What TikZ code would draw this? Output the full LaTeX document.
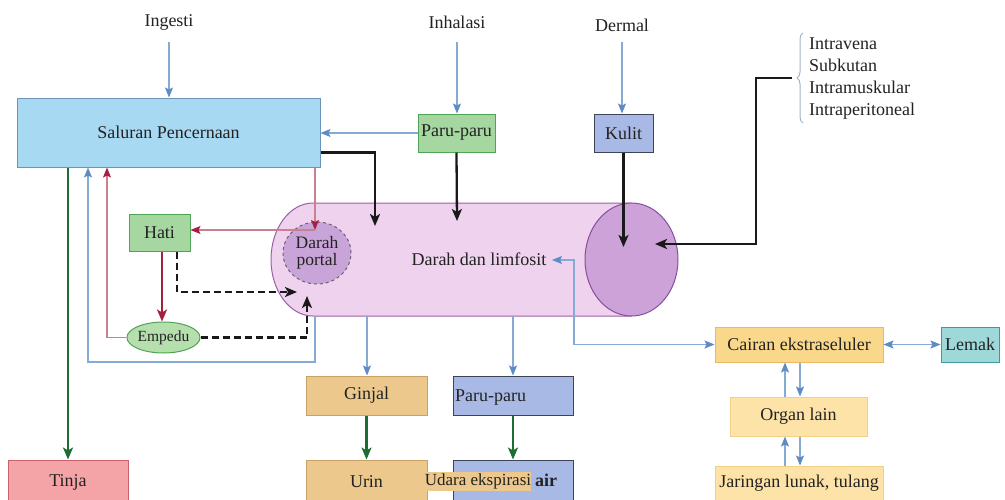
\documentclass[tikz,border=0pt]{standalone}
\usepackage{fontspec}
\setmainfont{Liberation Serif}
\usetikzlibrary{arrows.meta,shapes.geometric,calc,decorations.pathreplacing}

\definecolor{txt}{HTML}{222222}
\definecolor{salfill}{HTML}{A8D9F3}
\definecolor{salln}{HTML}{6A94B8}
\definecolor{grfill}{HTML}{A7D7A0}
\definecolor{grln}{HTML}{4FA456}
\definecolor{empfill}{HTML}{B6DFAE}
\definecolor{pbfill}{HTML}{A9B9E6}
\definecolor{pbln}{HTML}{3D4455}
\definecolor{tubefill}{HTML}{EFD2EE}
\definecolor{tubeln}{HTML}{9B5EA8}
\definecolor{capfill}{HTML}{CDA2D9}
\definecolor{capln}{HTML}{874E9B}
\definecolor{portfill}{HTML}{C9A4D9}
\definecolor{portln}{HTML}{6E5D73}
\definecolor{tinfill}{HTML}{F4A3A6}
\definecolor{tinln}{HTML}{C8636E}
\definecolor{tanfill}{HTML}{ECC88C}
\definecolor{tanln}{HTML}{C9A068}
\definecolor{cairfill}{HTML}{FAD88B}
\definecolor{cairln}{HTML}{EAB867}
\definecolor{orgfill}{HTML}{FDE3A8}
\definecolor{orgln}{HTML}{F2D088}
\definecolor{lemfill}{HTML}{9FD8D8}
\definecolor{lemln}{HTML}{3C9C9C}
\definecolor{blueln}{HTML}{85ABD4}
\definecolor{bluetip}{HTML}{5E8BC4}
\definecolor{redln}{HTML}{C98090}
\definecolor{redtip}{HTML}{A52040}
\definecolor{redthick}{HTML}{A3203F}
\definecolor{greenln}{HTML}{1E6B34}
\definecolor{bracec}{HTML}{A3B2C6}

\tikzset{
  box/.style={draw, rectangle, inner sep=0pt, line width=1pt, text=txt},
  lbl/.style={inner sep=0pt, text=txt},
  bl/.style={draw=blueln, line width=1.1pt,
    -{Stealth[length=10pt,width=8pt,inset=2pt,color=bluetip]}},
  bltwo/.style={draw=blueln, line width=1.1pt,
    {Stealth[length=10pt,width=8pt,inset=2pt,color=bluetip]}-{Stealth[length=10pt,width=8pt,inset=2pt,color=bluetip]}},
  blk/.style={draw=black!90, line width=2.3pt,
    -{Stealth[length=12pt,width=10pt,inset=3pt]}},
  rthin/.style={draw=redln, line width=1.1pt,
    -{Stealth[length=10pt,width=8pt,inset=2pt,color=redtip]}},
  rthick/.style={draw=redthick, line width=2.3pt,
    -{Stealth[length=12pt,width=10pt,inset=3pt]}},
  gthick/.style={draw=greenln, line width=2.3pt,
    -{Stealth[length=12pt,width=10pt,inset=3pt]}},
  dsh/.style={draw=black!90, line width=2.2pt, dash pattern=on 7pt off 4pt,
    -{Stealth[length=12pt,width=10pt,inset=3pt]}},
}

\begin{document}
\begin{tikzpicture}[x=1pt,y=-1pt,font=\fontsize{18}{20}\selectfont]
\useasboundingbox (0,0) rectangle (1005,499);
\clip (0,0) rectangle (1005,499);

% blood and lymph vessel
\path[draw=tubeln, fill=tubefill, line width=1pt]
  (313,203) -- (631,203) -- (631,316) -- (313,316)
  arc[start angle=90, end angle=270, x radius=42, y radius=56.5] -- cycle;
\node[ellipse, draw=capln, fill=capfill, line width=1pt, inner sep=0pt,
  minimum width=93pt, minimum height=113pt] (endcap) at (631.5,259.5) {};
\node[ellipse, draw=portln, fill=portfill, dashed, line width=1pt, inner sep=0pt,
  minimum width=68pt, minimum height=62pt, align=center, text=txt,
  font=\fontsize{17.5}{17}\selectfont] (portal) at (317,253) {Darah\\portal};
\node[lbl] (blood) at (479,259) {Darah dan limfosit};

% routes of entry
\node[lbl] (ingesti) at (169,22) {Ingesti};
\node[lbl] (inhal) at (457,22) {Inhalasi};
\node[lbl] (dermal) at (622,25) {Dermal};
\node[lbl, align=left, anchor=west, font=\fontsize{18}{22.3}\selectfont] (routes)
  at (809,78.5) {Intravena\\Subkutan\\Intramuskular\\Intraperitoneal};

% boxes
\node[box, fill=salfill, draw=salln, minimum width=303pt, minimum height=69pt]
  (sal) at (168.5,132.5) {Saluran Pencernaan};
\node[box, fill=grfill, draw=grln, minimum width=77pt, minimum height=38pt]
  (paruA) at (456.5,133) {Paru-paru};
\node[box, fill=pbfill, draw=pbln, minimum width=59pt, minimum height=38pt]
  (kulit) at (623.5,133) {Kulit};
\node[box, fill=grfill, draw=grln, minimum width=61pt, minimum height=37pt]
  (hati) at (159.5,232.5) {Hati};
\node[ellipse, draw=grln, fill=empfill, line width=1pt, inner sep=0pt, text=txt,
  minimum width=61pt, minimum height=31pt, font=\fontsize{15.5}{17}\selectfont]
  (empedu) at (163.5,337.5) {Empedu};
\node[box, fill=tinfill, draw=tinln, minimum width=120pt, minimum height=44pt]
  (tinja) at (68,482) {Tinja};
\node[box, fill=tanfill, draw=tanln, minimum width=121pt, minimum height=39pt]
  (ginjal) at (366.5,395.5) {Ginjal};
\node[box, fill=tanfill, draw=tanln, minimum width=121pt, minimum height=44pt]
  (urin) at (366.5,482) {Urin};
\node[box, fill=pbfill, draw=pbln, minimum width=120pt, minimum height=39pt]
  (paruB) at (513,395.5) {};
\node[lbl, anchor=west] (paruBt) at (455,398) {Paru-paru};
\node[box, fill=pbfill, draw=pbln, minimum width=120pt, minimum height=44pt]
  (exhal) at (513,482) {};
\node[lbl, font=\fontsize{18}{20}\selectfont\bfseries] (airt) at (546,480) {air};
\node[lbl, fill=tanfill, minimum width=106pt, minimum height=19pt,
  font=\fontsize{17}{19}\selectfont]
  (udara) at (478,481.5) {Udara ekspirasi};
\node[box, fill=cairfill, draw=cairln, minimum width=168pt, minimum height=35pt]
  (cairan) at (799,344.5) {Cairan ekstraseluler};
\node[box, fill=lemfill, draw=lemln, minimum width=58pt, minimum height=35pt]
  (lemak) at (970,344.5) {Lemak};
\node[box, fill=orgfill, draw=orgln, minimum width=137pt, minimum height=39pt]
  (organ) at (798.5,416.5) {Organ lain};
\node[box, fill=orgfill, draw=orgln, minimum width=168pt, minimum height=34pt]
  (jaring) at (799,483) {Jaringan lunak, tulang};

% entry arrows
\draw[bl] ($(ingesti)+(0,20)$) -- (ingesti |- sal.north);
\draw[bl] ($(inhal)+(0,20)$) -- (inhal |- paruA.north);
\draw[bl] ($(dermal)+(0,17)$) -- (dermal |- kulit.north);
\draw[bl] (paruA.west) -- (paruA.west -| sal.east);

% absorption into the blood
\coordinate (salOut) at ($(sal.south east)+(0,-15)$);
\coordinate (salTip) at (375,226);
\draw[blk] (salOut) -| (salTip);
\coordinate (paruTip) at (457,221);
\draw[blk] (paruA.south) -- (paruTip);
\coordinate (kulitTip) at (623.5,247);
\draw[blk] (kulit.south) -- (kulitTip);
\draw[draw=bracec, line width=1pt, decorate, decoration={brace, amplitude=6pt}]
  (803,123) -- (803,33);
\coordinate (brTip) at (792,78);
\coordinate (brCorner) at (756,78);
\coordinate (capTip) at (655,244);
\draw[blk] (brTip) -- (brCorner) |- (capTip);

% portal circulation and bile
\coordinate (rP) at (315,230);
\draw[rthin] (rP |- sal.south) -- (rP);
\draw[rthin] (rP) -- (hati.east |- rP);
\coordinate (hatiOut) at (162,0);
\draw[rthick] (hatiOut |- hati.south) -- (hatiOut |- empedu.north);
\coordinate (rL) at (107,337.5);
\draw[rthin] (empedu.west) -- (rL) -- (rL |- sal.south);
\coordinate (bA) at (315,316);
\coordinate (bB) at (315,362);
\coordinate (bC) at (88,362);
\draw[bl] (bA) -- (bB) -- (bC) -- (bC |- sal.south);
\draw[gthick] (tinja.north |- sal.south) -- (tinja.north);
\coordinate (dA) at (177,292);
\coordinate (dT) at (297,292);
\draw[dsh] (dA |- hati.south) -- (dA) -- (dT);
\coordinate (dB) at (307,337.5);
\coordinate (dU) at (307,296);
\draw[dsh] (empedu.east) -- (dB) -- (dU);

% excretion
\coordinate (tubeG) at (367,316);
\draw[bl] (tubeG) -- (tubeG |- ginjal.north);
\draw[gthick] (ginjal.south) -- (urin.north);
\coordinate (tubeP) at (513,316);
\draw[bl] (tubeP) -- (paruB.north);
\draw[gthick] (paruB.south) -- (exhal.north);

% distribution
\coordinate (bloodIn) at (552,260);
\coordinate (dUp) at (574,260);
\coordinate (dDown) at (574,344.5);
\draw[bltwo] (bloodIn) -- (dUp) -- (dDown) -- (cairan.west);
\draw[bltwo] (cairan.east) -- (lemak.west);
\draw[bl] ($(organ.north)+(-13.5,0)$) -- ($(cairan.south)+(-14,0)$);
\draw[bl] ($(cairan.south)+(1,0)$) -- ($(organ.north)+(1.5,0)$);
\draw[bl] ($(jaring.north)+(-14,0)$) -- ($(organ.south)+(-13.5,0)$);
\draw[bl] ($(organ.south)+(1.5,0)$) -- ($(jaring.north)+(1,0)$);
\end{tikzpicture}
\end{document}
